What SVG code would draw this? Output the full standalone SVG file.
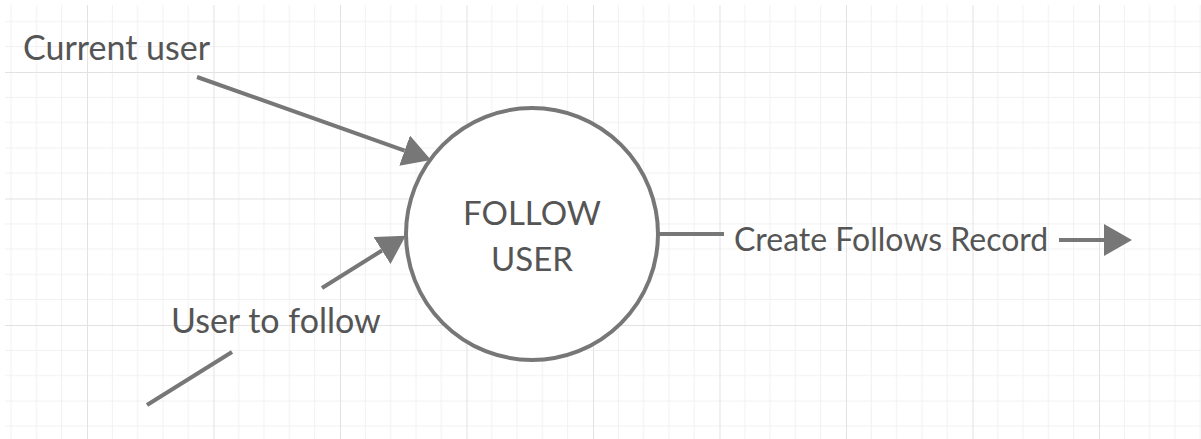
<svg xmlns="http://www.w3.org/2000/svg" width="1201" height="439" viewBox="0 0 1201 439">
  <style>
    .lbl { font-family: Lato, "Open Sans", "Liberation Sans", sans-serif; font-size: 34px; fill: #555555; }
    .node-lbl { font-size: 33px; }
    .flow-lbl { font-size: 32px; }
    .conn { stroke: #777777; stroke-width: 4; fill: none; }
    .node { stroke: #777777; stroke-width: 4; fill: #ffffff; }
  </style>
  <defs>
    <pattern id="grid" patternUnits="userSpaceOnUse" x="87" y="72" width="126.5" height="126.5">
      <path d="M25.3,0 V126.5 M50.6,0 V126.5 M75.9,0 V126.5 M101.2,0 V126.5 M0,25.3 H126.5 M0,50.6 H126.5 M0,75.9 H126.5 M0,101.2 H126.5" stroke="#f1f1f1" stroke-width="1" fill="none"/>
      <path d="M0.5,0 V126.5 M0,0.5 H126.5" stroke="#e2e2e2" stroke-width="1" fill="none"/>
    </pattern>
    <marker id="arrow" markerUnits="userSpaceOnUse" markerWidth="30" markerHeight="32" refX="0" refY="16" orient="auto">
      <path d="M0,0 L28,16 L0,32 Z" fill="#777777"/>
    </marker>
  </defs>
  <rect x="0" y="0" width="1201" height="439" fill="#ffffff"/>
  <rect x="5" y="5" width="1196" height="434" fill="url(#grid)"/>

  <g id="connectors">
    <line class="conn" x1="197" y1="77" x2="404.6" y2="150.6" marker-end="url(#arrow)"/>
    <line class="conn" x1="147" y1="405" x2="232" y2="352"/>
    <line class="conn" x1="322" y1="288" x2="382" y2="250.5" marker-end="url(#arrow)"/>
    <line class="conn" x1="658" y1="234" x2="724" y2="234"/>
    <line class="conn" x1="1059" y1="240" x2="1104" y2="240" marker-end="url(#arrow)"/>
  </g>

  <g id="node-follow-user">
    <circle class="node" cx="532" cy="234" r="126"/>
    <text class="lbl node-lbl" x="532" y="225" text-anchor="middle">FOLLOW</text>
    <text class="lbl node-lbl" x="532" y="271" text-anchor="middle">USER</text>
  </g>

  <g id="label-current-user">
    <text class="lbl" x="23" y="60">Current user</text>
  </g>
  <g id="label-user-to-follow">
    <text class="lbl" x="171" y="333">User to follow</text>
  </g>
  <g id="label-create-follows-record">
    <text class="lbl flow-lbl" x="734" y="251">Create Follows Record</text>
  </g>
</svg>
